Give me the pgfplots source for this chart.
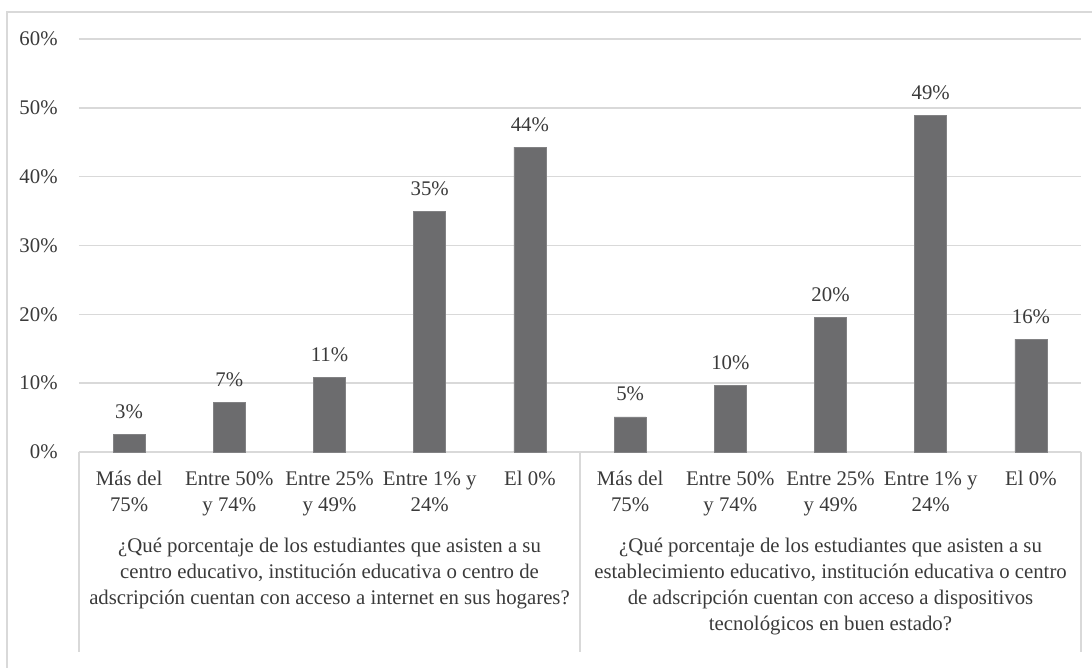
\documentclass[border=0pt]{standalone}
\usepackage{pgfplots}
\pgfplotsset{compat=1.18}
\usepackage{fontspec}
\setmainfont{Liberation Serif}
\definecolor{barfill}{RGB}{108,108,110}
\definecolor{gridc}{RGB}{217,217,217}
\definecolor{txt}{RGB}{58,58,58}

\pgfplotstableread{
x val
0 2.6
1 7.2
2 10.8
3 35.0
4 44.3
5 5.1
6 9.7
7 19.6
8 48.9
9 16.4
}\datatable

\newcommand\lblfont{\fontsize{10.4}{13}\selectfont}

\begin{document}
\begin{tikzpicture}[x=1pt,y=1pt]
\useasboundingbox (0,0) rectangle (546,334);
% outer chart frame (cropped on the right and bottom)
\draw[gridc, line width=0.7pt] (3.5,0) -- (3.5,328) -- (546,328);
\begin{axis}[
    at={(39.5pt,108pt)}, anchor=south west,
    scale only axis, width=501pt, height=206.5pt,
    xmin=-0.5, xmax=9.5, ymin=0, ymax=60,
    ytick={0,10,...,60},
    xtick={0,...,9},
    xticklabels={{Más del\\75\%},{Entre 50\%\\y 74\%},{Entre 25\%\\y 49\%},{Entre 1\% y\\24\%},{El 0\%},
                 {Más del\\75\%},{Entre 50\%\\y 74\%},{Entre 25\%\\y 49\%},{Entre 1\% y\\24\%},{El 0\%}},
    major tick length=0pt,
    axis x line=bottom, axis y line=left,
    y axis line style={draw=none},
    x axis line style={draw=gridc, line width=0.7pt, -},
    ymajorgrids, grid style={draw=gridc, line width=0.7pt},
    /pgf/number format/assume math mode=true,
    yticklabel={\pgfmathprintnumber{\tick}\%},
    yticklabel style={font=\lblfont, text=txt, anchor=east, inner sep=0pt, xshift=-10.5pt},
    xticklabel style={font=\lblfont, text=txt, align=center, anchor=north, inner sep=0pt, yshift=-9.5pt},
    clip=false,
    ybar, bar width=16pt,
    nodes near coords={\pgfmathprintnumber[fixed,precision=0]{\pgfplotspointmeta}\%},
    nodes near coords style={font=\lblfont, text=txt, anchor=base, inner sep=0pt, yshift=8pt},
]
\addplot[fill=barfill, draw=barfill!85!white, line width=0.3pt] table[x=x, y=val] {\datatable};
% multi-level category separators
\draw[gridc, line width=0.7pt] (axis cs:-0.5,0) -- ++(0pt,-100pt);
\draw[gridc, line width=0.7pt] (axis cs:4.5,0) -- ++(0pt,-100pt);
\draw[gridc, line width=0.7pt] (axis cs:9.5,0) -- ++(0pt,-100pt);
% group labels
\node[font=\lblfont, text=txt, align=center, anchor=north, inner sep=0pt]
  at ([yshift=-43pt]axis cs:2,0)
  {¿Qué porcentaje de los estudiantes que asisten a su\\centro educativo, institución educativa o centro de\\adscripción cuentan con acceso a internet en sus hogares?};
\node[font=\lblfont, text=txt, align=center, anchor=north, inner sep=0pt]
  at ([yshift=-43pt]axis cs:7,0)
  {¿Qué porcentaje de los estudiantes que asisten a su\\establecimiento educativo, institución educativa o centro\\de adscripción cuentan con acceso a dispositivos\\tecnológicos en buen estado?};
\end{axis}
\end{tikzpicture}
\end{document}
